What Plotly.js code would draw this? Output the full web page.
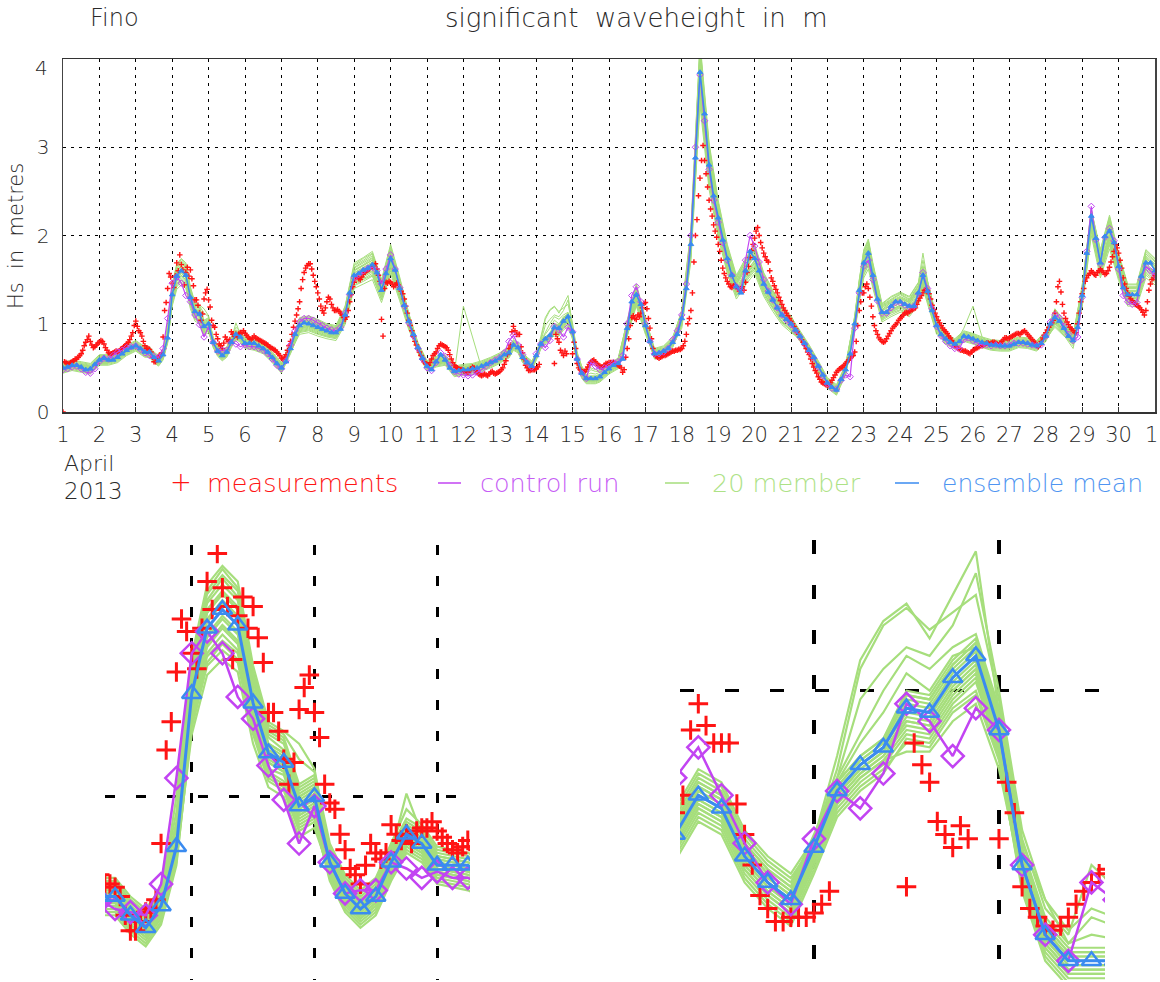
<!DOCTYPE html>
<html>
<head>
<meta charset="utf-8">
<script src="https://cdn.plot.ly/plotly-3.0.1.min.js"></script>
<style>html,body{margin:0;padding:0;background:#fff;}#chart{width:1160px;height:982px;}</style>
</head>
<body>
<div id="chart"></div>
<script>
// ---------------- DATA (values in cm) ----------------
// measurements: hourly, starting 1 April 2013 00 UTC (null = no observation)
const measurementsCm = [
0,57,56,55,55,56,57,58,60,60,62,64,66,70,75,79,82,86,80,76,73,74,76,78,
79,81,80,77,73,70,67,66,66,67,68,69,68,69,71,72,74,75,77,79,82,86,90,98,
103,97,92,90,86,80,75,72,72,71,68,62,57,57,60,63,64,67,85,
115,124,140,157,153,146,141,154,169,160,178,167,
161,144,158,164,154,161,151,143,127,127,121,112,
104,111,128,135,139,127,119,104,98,96,88,83,
77,75,72,78,85,82,80,82,91,88,86,88,
85,89,90,90,92,89,87,85,83,82,84,86,
84,83,82,81,80,
79,78,77,76,74,73,72,71,70,68,66,64,61,60,62,65,70,75,80,88,96,103,110,117,
125,140,150,158,163,166,168,168,162,155,148,142,135,128,120,115,112,118,125,130,128,122,118,115,
115,116,114,112,110,107,105,108,115,125,133,142,
147,152,154,151,150,153,156,158,160,161,162,164,
165,166,168,162,155,148,105,86,140,147,146,148,
147,145,142,144,146,144,140,137,134,128,120,112,
104,98,92,86,80,76,72,68,64,60,57,55,
54,53,56,60,64,66,68,72,75,77,76,75,
74,73,70,65,60,56,53,51,50,49,48,48,
47,46,45,45,47,49,51,50,47,45,43,42,
41,42,43,42,41,43,45,46,44,43,44,45,
46,48,50,54,58,65,
72,76,91,97,92,88,88,88,74,67,60,53,50,47,47,48,48,48,49,51,54,
null,null,null,null,null,null,null,null,null,
55,88,83,79,70,67,64,69,66,
null,null,null,
66,79,72,55,50,48,46,45,46,48,51,54,56,58,59,
57,55,53,52,51,51,53,55,55,
56,56,56,56,55,54,53,52,50,45,48,62,
72,83,98,107,109,106,105,110,108,112,118,123,
124,117,106,95,83,72,66,63,62,61,62,63,
64,64,65,66,67,68,69,69,70,70,71,71,
72,75,80,88,100,106,115,135,170,200,218,245,
265,285,302,285,270,255,240,230,222,212,205,198,
190,182,172,163,157,152,148,145,142,141,143,144,
142,140,137,140,142,138,147,158,165,175,183,190,
197,205,209,200,192,186,180,176,172,170,160,152,
148,143,139,135,130,126,122,118,115,112,109,106,
103,100,97,94,91,88,85,82,79,76,72,68,
65,60,55,51,47,44,40,37,34,33,32,31,
30,31,33,36,39,42,45,47,49,50,51,53,
55,57,59,61,63,64,68,80,98,115,125,135,
135,142,145,140,130,120,108,98,92,88,84,82,
80,79,80,83,86,89,92,95,97,99,101,104,
106,108,110,112,113,112,114,115,116,117,118,122,
126,129,132,135,138,139,138,134,128,121,116,112,
108,104,101,98,95,93,91,89,86,84,81,78,
76,74,72,71,70,70,69,69,68,67,66,68,
70,71,72,73,74,75,75,76,77,78,78,77,
78,79,79,78,77,76,78,80,82,84,84,83,
84,85,86,87,88,89,89,88,90,91,92,90,
88,86,84,82,80,78,76,74,76,80,84,87,
90,93,96,99,101,104,112,125,142,148,136,122,
112,106,102,99,96,94,92,90,90,100,112,125,
134,140,148,152,155,157,160,158,156,155,158,160,
162,160,158,156,157,160,164,170,176,182,190,186,
180,172,163,152,145,140,135,131,128,126,124,122,
121,120,118,116,113,110,115,125,138,145,150,152,
155];

// control run: 3-hourly from 1 April 00 UTC
const controlRunCm = [
48,49,51,52,49,45,44,49, 57,61,60,64,68,70,73,74, 75,71,67,64,63,62,72,106,
146,153,146,132,125,110,99,85, 97,79,69,70,70,79,77,74, 76,74,74,72,70,66,60,53,
49,58,76,92,102,106,106,104, 101,98,95,93,92,96,112,133, 152,156,160,163,164,160,145,162,
178,162,141,120,101,86,72,60, 50,47,56,67,63,53,46,43, 42,41,42,45,48,52,56,59,
62,67,80,87,76,65,56,51, 66,77,73,81,97,93,85,96, 91,60,44,38,56,52,48,50,
52,56,57,64,100,132,142,125, 100,80,66,66,68,72,82,92, 110,145,200,300,382,330,275,240,
215,192,172,155,142,138,172,200, 188,170,150,137,127,118,110,104, 99,92,85,77,69,61,51,41,
32,27,26,36,42,40,95,135, 165,172,150,126,112,112,118,124, 124,121,119,120,134,158,140,117,
97,86,80,75,72,72,82,84, 81,78,76,76,75,76,75,75, 76,78,78,78,77,76,75,76,
86,102,110,107,97,88,81,85, 130,182,233,195,168,198,208,194, 162,132,125,122,124,150,165,160,
155];

// ensemble mean: 3-hourly from 1 April 00 UTC
const ensembleMeanCm = [
50,51,53,53,51,48,49,54, 59,61,59,59,62,66,70,73, 75,72,68,68,62,58,65,84,
133,154,160,155,130,114,111,97, 100,79,69,64,68,79,88,85, 78,78,78,75,72,68,62,55,
50,57,72,88,98,101,100,98, 96,94,92,90,90,94,110,135, 155,157,161,163,167,158,138,157,
174,161,140,121,103,88,73,61, 52,48,57,65,59,50,46,47, 48,48,49,50,52,54,56,58,
61,65,67,76,73,62,56,52, 64,77,83,87,96,95,103,108, 91,60,44,38,38,38,40,45,
49,53,55,60,95,125,133,122, 98,80,66,67,69,72,79,88, 106,140,190,288,385,338,280,245,
220,195,174,155,142,135,160,182, 174,160,145,136,127,118,110,105, 100,93,86,78,70,62,52,42,
33,28,25,37,48,66,100,138, 169,180,155,128,113,113,120,125, 125,122,120,120,135,155,137,115,
98,88,83,79,77,80,86,85, 83,81,79,78,76,76,75,75, 75,77,79,79,78,76,75,78,
86,100,107,103,95,86,81,96, 132,180,222,197,169,199,205,192, 165,141,133,133,133,154,169,169,
160];

// output times (day of April) of the 20 ensemble members
const memberTimes = [
1,1.25,1.5,1.75,2,2.25,2.5,2.75,3,3.25,
3.375,3.5,3.625,3.75,3.875,4,4.125,4.25,4.375,4.5,4.625,4.75,4.875,5,5.125,5.25,5.375,5.5,5.625,5.75,5.875,6,6.125,6.25,6.375,6.5,
6.75,7,7.25,7.5,7.75,8,8.25,8.5,8.75,9,9.25,9.5,9.75,10,10.25,10.5,10.75,11,11.25,11.5,11.75,12,12.25,12.5,12.75,13,
13.125,13.25,13.375,13.5,13.625,13.75,13.875,14,14.125,14.25,14.375,14.5,14.625,14.75,14.875,15,15.125,15.25,15.375,15.5,15.625,15.75,
16,16.25,16.5,16.75,17,17.25,17.5,17.75,18,18.25,18.5,18.75,19,19.25,19.5,19.75,20,20.25,20.5,20.75,21,21.25,21.5,21.75,22,22.25,22.5,22.75,
22.875,23,23.125,
23.25,23.5,23.75,24,24.25,24.5,24.625,24.75,25,25.25,25.5,25.75,26,26.25,26.5,26.75,27,27.25,27.5,27.75,28,28.25,28.5,28.75,29,29.25,29.5,29.75,30,30.25,30.5,30.75,31];

const member01Cm = [54,57,55,53,63,63,66,74,79,72,
72,66,62,69,90,141,163,170,164,138,121,118,103,106,83,73,68,72,83,92,89,82,81,80,78,76,
66,54,76,104,106,102,98,95,117,164,171,177,146,184,148,109,77,56,61,63,50,52,53,56,60,65,
69,71,80,77,66,60,56,66,80,90,100,108,105,110,113,96,64,48,42,44,43,45,
53,59,101,141,104,70,73,83,112,201,408,297,233,184,151,170,184,154,135,117,106,90,74,56,37,29,52,106,
146,179,191,
164,120,127,133,127,143,164,145,104,87,81,90,87,83,80,79,79,83,82,79,90,113,101,85,140,230,179,217,175,141,141,179,170];
const member02Cm = [46,49,47,45,55,55,58,66,71,64,
64,58,54,61,80,125,145,150,146,122,107,104,91,94,75,65,60,64,75,84,81,74,73,72,70,68,
58,46,68,92,94,90,86,85,103,146,151,157,130,164,132,97,69,48,53,55,42,44,45,48,52,57,
61,63,72,69,58,52,48,60,73,79,83,90,89,97,102,86,56,40,34,34,34,36,
45,51,89,125,92,62,65,75,100,179,362,263,207,164,133,150,164,136,119,103,94,82,66,48,29,21,44,94,
130,159,169,
146,106,113,118,113,127,146,129,92,79,73,82,79,75,72,71,71,75,74,71,82,101,89,77,124,209,159,193,155,125,125,159,150];
const member03Cm = [52,55,53,51,61,61,64,72,77,70,
70,64,60,67,86,137,159,165,160,134,117,114,100,103,81,71,66,70,81,90,87,80,79,78,76,74,
64,52,74,101,103,99,95,93,113,160,166,172,142,179,144,106,75,54,59,61,48,50,51,54,58,63,
67,69,78,75,64,58,54,66,79,85,89,99,98,106,111,94,62,46,40,40,40,42,
51,57,98,137,101,68,71,81,109,196,397,288,227,179,146,165,179,149,131,113,103,88,72,54,35,27,50,103,
142,174,185,
160,116,124,129,124,139,160,141,101,85,79,88,85,81,78,77,77,81,80,77,88,110,98,83,136,224,174,211,170,137,137,174,165];
const member04Cm = [48,51,49,47,57,57,60,68,73,66,
66,60,56,63,82,129,149,155,150,126,111,108,94,97,77,67,62,66,77,86,83,76,75,74,72,70,
60,48,70,95,97,93,89,87,107,150,156,162,134,169,136,100,71,50,55,57,44,46,47,50,54,59,
63,65,74,71,60,54,50,62,75,81,85,93,92,100,105,88,58,42,36,36,36,38,
47,53,92,129,95,64,67,77,103,184,373,272,213,169,138,155,169,141,123,107,97,84,68,50,31,23,46,97,
134,164,175,
150,110,116,121,116,131,150,133,95,81,75,84,81,77,74,73,73,77,76,73,84,104,92,79,128,215,164,199,160,129,129,164,155];
const member05Cm = [56,59,57,55,65,65,68,76,81,74,
74,68,64,71,95,144,166,173,167,140,123,120,112,108,85,75,70,74,85,96,91,84,83,82,80,78,
68,56,78,106,108,104,99,97,119,167,174,180,149,188,151,111,79,58,63,65,52,54,55,58,62,67,
71,73,82,79,68,62,58,66,82,105,115,119,114,118,122,98,66,50,44,60,55,52,
55,61,103,144,106,72,75,85,114,205,416,302,238,188,153,173,188,157,137,119,108,92,76,58,39,31,54,108,
149,183,194,
167,122,130,135,130,146,172,148,106,89,83,92,89,85,82,81,81,85,84,81,92,116,103,87,143,228,183,221,178,144,144,183,173];
const member06Cm = [44,47,45,43,53,53,56,64,69,62,
62,56,52,59,78,124,143,149,144,121,106,103,90,93,73,63,58,62,73,82,79,72,71,70,68,66,
56,44,66,91,93,89,86,84,102,144,150,155,128,162,130,96,67,46,51,53,40,42,43,46,50,55,
59,61,70,67,56,50,46,58,71,77,81,89,88,96,100,85,54,38,32,32,32,34,
43,49,88,124,91,60,63,73,99,177,358,260,205,162,132,149,162,135,118,102,93,80,64,46,27,19,42,93,
128,157,167,
144,105,112,116,112,126,144,127,91,77,71,80,77,73,70,69,69,73,72,69,80,100,88,75,123,206,157,191,153,124,124,157,149];
const member07Cm = [50,53,51,49,59,59,62,70,75,68,
68,62,58,65,84,134,156,162,157,131,115,112,98,101,79,69,64,68,79,88,85,78,77,76,74,72,
62,50,72,99,101,97,93,91,111,157,163,169,139,176,141,104,73,52,57,59,46,48,49,52,56,61,
65,67,76,73,62,56,52,64,77,83,87,97,96,104,109,92,60,44,38,38,38,40,
49,55,96,134,99,66,69,79,107,192,389,283,222,176,143,162,176,146,128,111,101,86,70,52,33,25,48,101,
139,171,182,
157,114,121,126,121,136,157,138,99,83,77,86,83,79,76,75,75,79,78,75,86,108,96,81,133,222,171,207,167,134,134,171,162];
const member08Cm = [53,56,54,52,62,62,65,73,78,71,
71,65,61,68,87,140,162,168,163,137,120,117,102,105,82,72,67,71,82,91,88,81,80,79,77,75,
65,53,75,103,105,101,97,95,116,163,169,175,145,183,147,108,76,55,60,62,49,51,52,55,59,64,
68,70,79,76,65,59,55,67,79,88,95,104,100,108,110,95,63,47,41,41,41,43,
52,58,100,140,103,69,72,82,111,200,404,294,231,183,149,168,183,152,133,116,105,89,73,55,36,28,51,105,
145,177,189,
163,119,126,131,126,142,163,144,103,86,80,89,86,82,79,78,78,82,81,78,89,112,100,84,139,225,177,215,173,140,140,177,168];
const member09Cm = [47,50,48,46,56,56,59,67,72,65,
65,59,55,62,81,126,146,152,147,124,108,105,92,95,76,66,61,65,76,85,82,75,74,73,71,69,
59,47,69,93,95,91,87,86,105,147,153,159,131,165,133,98,70,49,54,56,43,45,46,49,53,58,
62,64,73,70,59,53,49,61,74,80,84,91,90,98,103,86,57,41,35,35,35,37,
46,52,90,126,93,63,66,76,101,181,366,266,209,165,135,152,165,138,121,105,95,83,67,49,30,22,45,95,
131,161,171,
147,107,114,119,114,128,147,130,93,80,74,83,80,76,73,72,72,76,75,72,83,102,90,78,125,211,161,195,157,126,126,161,152];
const member10Cm = [51,54,52,50,60,60,63,71,76,69,
69,63,59,66,85,136,157,163,158,133,116,113,99,102,80,70,65,69,80,89,86,79,78,77,75,73,
63,51,73,100,102,98,94,92,112,158,164,170,141,177,143,105,74,53,58,60,47,49,50,53,57,62,
66,68,77,74,63,57,53,65,78,84,88,98,97,105,110,93,61,45,39,39,39,41,
50,56,97,136,100,67,70,80,108,194,393,286,224,177,145,163,177,148,130,112,102,87,71,53,34,26,49,102,
141,172,184,
158,115,122,128,122,138,158,140,100,84,78,87,84,80,77,76,76,80,79,76,87,109,97,82,135,222,172,209,168,136,136,172,163];
const member11Cm = [49,52,50,48,58,58,61,69,74,67,
67,61,57,64,83,130,151,157,152,127,112,109,95,98,78,68,63,67,78,87,84,77,76,75,73,71,
61,49,71,96,98,94,90,88,108,152,158,164,135,171,137,101,72,51,56,58,45,47,48,51,55,60,
64,66,75,72,61,55,51,63,76,82,86,94,93,101,106,89,59,43,37,37,37,39,
48,54,93,130,96,65,68,78,104,186,377,274,216,171,139,157,171,142,124,108,98,85,69,51,32,24,47,98,
135,166,176,
152,111,118,123,118,132,152,134,96,82,76,85,82,78,75,74,74,78,77,74,85,105,93,80,129,218,166,201,162,130,130,166,157];
const member12Cm = [55,58,56,54,64,64,67,75,80,73,
73,67,63,70,92,142,165,171,166,139,122,119,104,107,84,74,69,73,84,93,90,83,82,81,79,77,
67,55,77,105,107,103,98,96,118,166,172,179,148,186,150,110,78,57,62,64,51,53,54,57,61,66,
70,72,81,78,67,61,57,65,80,98,105,110,108,115,127,100,68,52,42,48,46,46,
54,60,102,142,105,71,74,84,113,203,412,300,235,186,152,171,186,155,136,118,107,91,75,57,38,30,53,107,
148,181,193,
166,121,128,134,128,144,166,147,105,88,82,91,88,84,81,80,80,84,83,80,91,114,102,86,141,226,181,219,177,142,142,181,171];
const member13Cm = [45,48,46,44,54,54,57,65,70,63,
63,57,53,60,79,122,142,147,143,120,105,102,89,92,74,64,59,63,74,83,80,73,72,71,69,67,
57,45,67,90,92,88,85,83,101,143,148,154,127,160,129,95,68,47,52,54,41,43,44,47,51,56,
60,62,71,68,57,51,47,59,72,78,82,88,87,95,99,84,55,39,33,33,33,35,
44,50,87,122,90,61,64,74,98,175,354,258,202,160,131,147,160,133,117,101,92,81,65,47,28,20,43,92,
127,155,166,
143,104,110,115,110,124,143,126,90,78,72,81,78,74,71,70,70,74,73,70,81,98,87,72,121,204,155,189,152,122,122,155,147];
const member14Cm = [52,55,53,51,61,61,64,72,77,70,
70,64,60,67,86,138,160,166,161,135,119,115,101,104,81,71,66,70,81,90,87,80,79,78,76,74,
64,52,74,102,104,100,96,94,114,161,167,174,144,181,146,107,75,54,59,61,48,50,51,54,58,63,
67,69,78,75,64,58,54,66,79,85,89,100,99,107,112,95,62,46,40,40,40,42,
51,57,99,138,102,68,71,81,110,198,400,291,229,181,148,166,181,151,132,114,104,88,72,54,35,27,50,104,
144,176,187,
161,118,125,130,125,140,161,142,102,85,79,88,85,81,78,77,77,81,80,77,88,111,99,83,137,226,176,213,172,138,138,176,166];
const member15Cm = [48,51,49,47,57,57,60,68,73,66,
66,60,56,63,82,128,148,154,149,125,109,107,93,96,77,67,62,66,77,86,83,76,75,74,72,70,
60,48,70,94,96,92,88,86,106,149,155,160,132,167,134,99,71,50,55,57,44,120,85,50,54,59,
63,65,74,71,60,54,50,62,75,81,85,92,91,99,104,87,58,42,36,36,36,38,
47,53,91,128,94,64,67,77,102,182,370,269,211,167,136,154,167,139,122,106,96,84,68,50,31,23,46,96,
132,162,173,
149,108,115,120,115,130,149,132,94,81,75,84,81,77,74,73,73,77,76,73,84,103,91,79,127,213,162,197,158,128,128,162,154];
const member16Cm = [50,53,51,49,59,59,62,70,75,68,
68,62,58,65,84,132,152,158,153,129,113,110,96,99,79,69,64,68,79,88,85,78,77,76,74,72,
62,50,72,97,99,95,91,89,109,153,159,165,137,172,139,102,73,52,57,59,46,48,49,52,56,61,
65,67,76,73,62,56,52,64,77,83,87,95,94,102,107,90,60,44,38,38,38,40,
49,55,94,132,97,66,69,79,105,188,381,277,218,172,141,158,172,144,126,109,99,86,70,52,33,25,48,99,
137,167,178,
153,112,119,124,119,134,153,136,97,83,77,95,120,85,76,75,75,79,78,75,86,106,94,81,131,220,167,203,163,132,132,167,158];
const member17Cm = [53,56,54,52,62,62,65,73,78,71,
71,65,61,68,100,145,168,174,169,142,124,121,117,109,82,72,67,71,82,101,88,81,80,79,77,75,
65,53,75,107,109,105,100,98,120,169,175,182,150,190,153,112,76,55,60,62,49,51,52,55,59,64,
68,70,79,76,65,59,55,66,85,107,116,120,112,122,132,95,65,52,45,50,48,47,
52,58,104,145,107,69,72,82,116,207,420,305,240,190,155,174,190,158,138,120,109,89,73,55,36,28,51,109,
150,184,196,
169,123,131,136,131,147,180,149,107,86,80,89,86,82,79,78,78,82,81,78,89,117,104,84,144,229,184,223,180,145,145,184,174];
const member18Cm = [47,50,48,46,56,56,59,67,72,65,
65,59,55,62,81,120,139,144,140,117,103,100,87,90,76,66,61,65,76,85,82,75,74,73,71,69,
59,47,69,88,90,86,83,81,99,140,145,150,124,157,126,93,70,49,54,56,43,45,46,49,53,58,
62,64,73,70,59,53,49,61,74,80,84,86,86,93,97,82,57,41,35,35,35,37,
46,52,86,120,88,63,66,76,95,171,347,252,198,157,128,144,157,131,114,99,90,83,67,49,30,22,45,90,
124,152,162,
140,102,108,113,108,122,140,123,88,80,74,83,80,76,73,72,72,76,75,72,83,96,86,78,119,200,152,185,149,120,120,152,144];
const member19Cm = [51,54,52,50,60,60,63,71,76,69,
69,63,59,66,85,137,159,165,160,134,117,114,100,103,80,70,65,69,80,89,86,79,78,77,75,73,
63,51,73,101,103,99,95,93,113,160,166,172,142,179,144,106,74,53,58,60,47,49,50,53,57,62,
66,68,77,74,63,57,53,65,78,84,88,99,98,106,111,94,61,45,39,39,39,41,
50,56,98,137,101,67,70,80,109,196,397,288,227,179,146,165,179,149,131,113,103,87,71,53,34,26,49,103,
142,174,185,
160,116,124,129,124,139,160,141,101,84,78,87,84,80,77,76,76,80,79,76,87,110,98,82,136,224,174,211,170,137,137,174,165];
const member20Cm = [49,52,50,48,58,58,61,69,74,67,
67,61,57,64,83,129,149,155,150,126,111,108,94,97,78,68,63,67,78,87,84,77,76,75,73,71,
61,49,71,95,97,93,89,87,107,150,156,162,134,169,136,100,72,51,56,58,45,47,48,51,55,60,
64,66,75,72,61,55,51,63,76,82,86,93,92,100,105,88,59,43,37,37,37,39,
48,54,92,129,95,65,68,78,103,184,373,272,213,169,138,155,169,141,123,107,97,85,69,51,32,24,47,97,
134,164,175,
150,110,116,121,116,131,150,133,95,82,76,85,82,78,75,74,74,78,77,74,85,104,92,80,128,215,164,199,160,129,129,164,155];

const memberRuns = [member01Cm,member02Cm,member03Cm,member04Cm,member05Cm,member06Cm,member07Cm,
  member08Cm,member09Cm,member10Cm,member11Cm,member12Cm,member13Cm,member14Cm,member15Cm,
  member16Cm,member17Cm,member18Cm,member19Cm,member20Cm];

const xTickDays = [1,2,3,4,5,6,7,8,9,10,11,12,13,14,15,16,17,18,19,20,21,22,23,24,25,26,27,28,29,30,31];
// the last label ("1" = 1 May) sits on the right frame edge; it is drawn as a separate text so it stays inside the page
const xTickLabels = ['1','2','3','4','5','6','7','8','9','10','11','12','13','14','15','16','17','18','19','20',
  '21','22','23','24','25','26','27','28','29','30',''];
const yTickValues = [0,1,2,3,4];
const yTickLabels = ['0','1','2','3',''];   // the top label "4" is drawn slightly lower, as in the original

// ---------------- BUILD ----------------
const toM = a => a.map(v => v === null ? null : v / 100);
const measT = measurementsCm.map((v, i) => 1 + i / 24);
const modelT = ensembleMeanCm.map((v, i) => 1 + i / 8);

const FONT = "DejaVu Sans, Verdana, sans-serif";
const TXT = '#2a2a2a';
const C_MEAS = '#ff1414', C_CTRL = '#c244f2', C_MEM = '#a6de7c', C_MEAN = '#3a8bf0';

const panels = [
  {xa: 'x', ya: 'y', big: false},
  {xa: 'x2', ya: 'y2', big: true},
  {xa: 'x3', ya: 'y3', big: true}
];
const traces = [];
panels.forEach(p => {
  memberRuns.forEach(m => traces.push({
    type: 'scatter', mode: 'lines', x: memberTimes, y: toM(m), xaxis: p.xa, yaxis: p.ya,
    line: {color: C_MEM, width: p.big ? 2.2 : 1}, hoverinfo: 'skip', showlegend: false
  }));
  traces.push({
    type: 'scatter', mode: 'markers', x: measT, y: toM(measurementsCm), xaxis: p.xa, yaxis: p.ya,
    marker: {symbol: 'cross-thin', size: p.big ? 14 : 4, color: C_MEAS, line: {color: C_MEAS, width: p.big ? 3 : 1.4}},
    showlegend: false
  });
  traces.push({
    type: 'scatter', mode: 'lines+markers', x: modelT, y: toM(controlRunCm), xaxis: p.xa, yaxis: p.ya,
    line: {color: C_CTRL, width: p.big ? 2.5 : 1.2},
    marker: {symbol: 'diamond-open', size: p.big ? 17 : 5, color: C_CTRL, line: {color: C_CTRL, width: p.big ? 2.5 : 1}},
    showlegend: false
  });
  traces.push({
    type: 'scatter', mode: 'lines+markers', x: modelT, y: toM(ensembleMeanCm), xaxis: p.xa, yaxis: p.ya,
    line: {color: C_MEAN, width: p.big ? 3 : 1.5},
    marker: {symbol: p.big ? 'triangle-up-open' : 'triangle-up', size: p.big ? 17 : 5, color: C_MEAN, line: {color: C_MEAN, width: p.big ? 2.5 : 1}},
    showlegend: false
  });
});

const W = 1160, H = 982;
const px = v => v / W, py = v => 1 - v / H;
const tf = (s, c) => ({family: FONT, size: s, color: c || TXT, weight: 200});

const zoomAxis = (dom, rng, vals, dash, w) => ({
  domain: dom, range: rng, tickvals: vals, showticklabels: false, ticks: '',
  showgrid: true, gridcolor: '#000', gridwidth: w, griddash: dash,
  showline: false, zeroline: false, fixedrange: true
});

const ann = [];
const addText = (text, x, y, size, color, xanchor, angle) => ann.push({
  text: text, x: px(x), y: py(y), xref: 'paper', yref: 'paper', showarrow: false,
  xanchor: xanchor || 'left', yanchor: 'middle', font: tf(size, color), textangle: angle || 0
});
addText('Fino', 88, 18, 24);
addText('significant  waveheight  in  m', 636, 18, 26, TXT, 'center');
addText('Hs  in  metres', 16, 236, 21, TXT, 'center', -90);
addText('4', 50, 68, 20, TXT, 'right');
addText('1', 1151, 435, 21, TXT, 'center');
addText('April', 62, 463, 22);
addText('2013', 62, 491, 23);
addText('+', 181, 482, 26, C_MEAS, 'center');
addText('measurements', 205, 483, 25.5, C_MEAS);
addText('control run', 478, 483, 25.5, '#c65cf5');
addText('20 member', 710, 483, 25.5, '#ade286');
addText('ensemble mean', 940, 483, 25, '#4f95f1');

const legendLine = (x0, x1, color) => ({
  type: 'line', xref: 'paper', yref: 'paper', x0: px(x0), x1: px(x1), y0: py(483), y1: py(483),
  line: {color: color, width: 1.5}
});

const layout = {
  width: W, height: H, margin: {l: 0, r: 0, t: 0, b: 0},
  paper_bgcolor: '#fff', plot_bgcolor: 'rgba(0,0,0,0)', showlegend: false,
  font: tf(20),
  xaxis: {
    domain: [px(63), px(1155)], range: [1, 31], tickvals: xTickDays, ticktext: xTickLabels,
    showgrid: true, gridcolor: '#000', gridwidth: 1, griddash: '3px,5px',
    showline: true, linecolor: '#333', linewidth: 1.5, mirror: true,
    ticks: 'inside', ticklen: 5, tickcolor: '#333', tickfont: tf(21), ticklabelstandoff: 3,
    zeroline: false, fixedrange: true
  },
  yaxis: {
    domain: [py(412), py(59)], range: [0, 4], tickvals: yTickValues, ticktext: yTickLabels,
    showgrid: true, gridcolor: '#000', gridwidth: 1, griddash: '3px,5px',
    showline: true, linecolor: '#444', linewidth: 1.5, mirror: true,
    ticks: '', tickfont: tf(20), ticklabelstandoff: 8,
    zeroline: false, fixedrange: true
  },
  xaxis2: zoomAxis([px(105), px(470)], [3.293, 6.268], [4, 5, 6], '10px,21px', 3),
  yaxis2: zoomAxis([py(980), py(545)], [0.4125, 1.807], [1], '10px,21px', 3),
  xaxis3: zoomAxis([px(680), px(1105)], [13.276, 15.573], [14, 15], '14px,31px', 3.5),
  yaxis3: zoomAxis([py(980), py(540)], [0.336, 1.346], [1], '14px,31px', 3.5),
  annotations: ann,
  shapes: [legendLine(438, 461, C_CTRL), legendLine(665, 689, C_MEM), legendLine(895, 919, C_MEAN)]
};

Plotly.newPlot('chart', traces, layout, {staticPlot: true, displayModeBar: false});
</script>
</body>
</html>
